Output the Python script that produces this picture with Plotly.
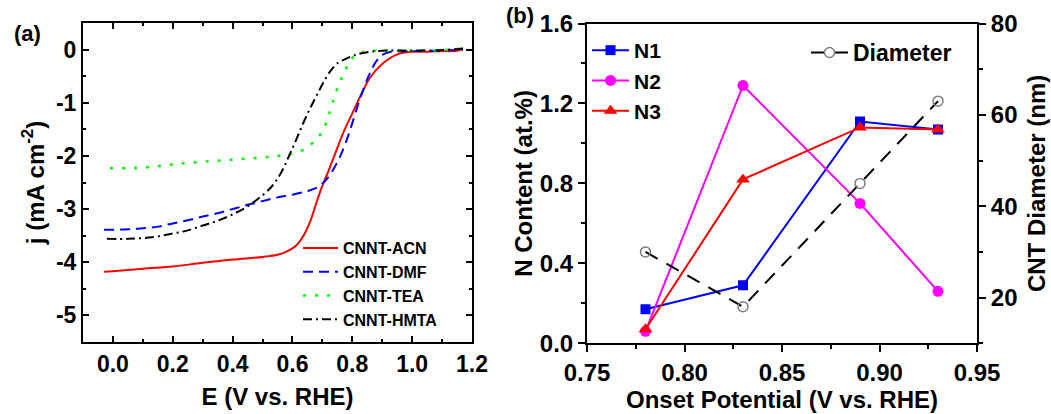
import plotly.graph_objects as go

# ---- Panel (a): LSV curves, current density vs potential ----
acn_E = [-0.03, 0.0, 0.1, 0.2, 0.3, 0.4, 0.5, 0.55, 0.58, 0.6, 0.62, 0.64, 0.66, 0.68, 0.7,
         0.72, 0.75, 0.77, 0.8, 0.83, 0.86, 0.9, 0.95, 1.0, 1.05, 1.1, 1.15, 1.17]
acn_j = [-4.18, -4.17, -4.12, -4.08, -4.01, -3.95, -3.90, -3.86, -3.80, -3.74, -3.64, -3.47,
         -3.22, -2.88, -2.56, -2.29, -1.85, -1.56, -1.20, -0.84, -0.52, -0.27, -0.09, -0.04,
         -0.04, -0.03, -0.02, 0.02]

dmf_E = [-0.03, 0.05, 0.1, 0.15, 0.2, 0.25, 0.3, 0.35, 0.4, 0.45, 0.5, 0.55, 0.6, 0.65, 0.68,
         0.7, 0.72, 0.74, 0.76, 0.78, 0.8, 0.82, 0.84, 0.86, 0.88, 0.9, 0.93, 0.96, 1.0, 1.1, 1.17]
dmf_j = [-3.39, -3.38, -3.36, -3.33, -3.27, -3.21, -3.14, -3.08, -3.00, -2.92, -2.85, -2.78,
         -2.73, -2.66, -2.60, -2.52, -2.40, -2.22, -2.00, -1.72, -1.38, -1.02, -0.70, -0.43,
         -0.22, -0.10, -0.04, -0.03, -0.03, -0.02, 0.0]

tea_E = [-0.01, 0.1, 0.2, 0.3, 0.4, 0.5, 0.55, 0.6, 0.63, 0.65, 0.67, 0.69, 0.71, 0.73, 0.75,
         0.77, 0.79, 0.81, 0.84, 0.9, 1.0, 1.1, 1.17]
tea_j = [-2.23, -2.22, -2.16, -2.11, -2.07, -2.03, -2.00, -1.96, -1.90, -1.84, -1.74, -1.62,
         -1.42, -1.08, -0.73, -0.46, -0.24, -0.11, -0.04, -0.02, -0.02, -0.01, 0.02]

hmta_E = [-0.02, 0.05, 0.13, 0.2, 0.25, 0.3, 0.35, 0.4, 0.45, 0.5, 0.53, 0.55, 0.57, 0.59,
          0.61, 0.63, 0.65, 0.67, 0.69, 0.71, 0.73, 0.75, 0.78, 0.81, 0.85, 0.9, 1.0, 1.1, 1.17]
hmta_j = [-3.56, -3.56, -3.53, -3.46, -3.40, -3.31, -3.22, -3.10, -2.95, -2.74, -2.58, -2.43,
          -2.23, -1.98, -1.73, -1.46, -1.21, -0.98, -0.76, -0.55, -0.38, -0.26, -0.17, -0.10,
          -0.05, -0.02, -0.02, -0.01, 0.02]

# ---- Panel (b): N content and CNT diameter vs onset potential ----
onset = [0.78, 0.83, 0.89, 0.93]
n1 = [0.17, 0.29, 1.11, 1.07]
n2 = [0.06, 1.29, 0.70, 0.26]
n3 = [0.07, 0.82, 1.08, 1.07]
diameter = [30, 18, 45, 63]

# tick values and labels
a_xticks = [0.0, 0.2, 0.4, 0.6, 0.8, 1.0, 1.2]
a_xlabels = ["0.0", "0.2", "0.4", "0.6", "0.8", "1.0", "1.2"]
a_yticks = [0, -1, -2, -3, -4, -5]
a_ylabels = ["0", "-1", "-2", "-3", "-4", "-5"]
b_xticks = [0.75, 0.80, 0.85, 0.90, 0.95]
b_xlabels = ["0.75", "0.80", "0.85", "0.90", "0.95"]
b_yticks = [0.0, 0.4, 0.8, 1.2, 1.6]
b_ylabels = ["0.0", "0.4", "0.8", "1.2", "1.6"]
b_dticks = [20, 40, 60, 80]
b_dlabels = ["20", "40", "60", "80"]

FONT = "Liberation Sans, Arial, sans-serif"
W, H = 1051, 414


def px_x(p):
    return p / W


def px_y(p):
    return 1 - p / H


def bold(labels):
    return ["<b>" + s + "</b>" for s in labels]


fig = go.Figure()

lw = 2
fig.add_trace(go.Scatter(x=acn_E, y=acn_j, mode="lines", name="CNNT-ACN",
                         line=dict(color="#ff0000", width=lw, shape="spline"),
                         xaxis="x", yaxis="y", legend="legend"))
fig.add_trace(go.Scatter(x=dmf_E, y=dmf_j, mode="lines", name="CNNT-DMF",
                         line=dict(color="#0000ff", width=lw, dash="10px,6px", shape="spline"),
                         xaxis="x", yaxis="y", legend="legend"))
fig.add_trace(go.Scatter(x=tea_E, y=tea_j, mode="lines", name="CNNT-TEA",
                         line=dict(color="#00ff00", width=lw + 0.5, dash="3px,9px", shape="spline"),
                         xaxis="x", yaxis="y", legend="legend"))
fig.add_trace(go.Scatter(x=hmta_E, y=hmta_j, mode="lines", name="CNNT-HMTA",
                         line=dict(color="#000000", width=lw, dash="9px,4px,2px,4px", shape="spline"),
                         xaxis="x", yaxis="y", legend="legend"))

fig.add_trace(go.Scatter(x=onset, y=n1, mode="lines+markers", name="N1",
                         line=dict(color="#0000ff", width=2),
                         marker=dict(symbol="square", size=10, color="#0000ff"),
                         xaxis="x2", yaxis="y2", legend="legend2"))
fig.add_trace(go.Scatter(x=onset, y=n2, mode="lines+markers", name="N2",
                         line=dict(color="#ff00ff", width=2),
                         marker=dict(symbol="circle", size=11, color="#ff00ff"),
                         xaxis="x2", yaxis="y2", legend="legend2"))
fig.add_trace(go.Scatter(x=onset, y=n3, mode="lines+markers", name="N3",
                         line=dict(color="#ff0000", width=2),
                         marker=dict(symbol="triangle-up", size=12, color="#ff0000"),
                         xaxis="x2", yaxis="y2", legend="legend2"))
fig.add_trace(go.Scatter(x=onset, y=diameter, mode="lines+markers", name="Diameter",
                         line=dict(color="#000000", width=2, dash="14px,10px"),
                         marker=dict(symbol="circle-open", size=10, color="#808080",
                                     line=dict(width=1.5, color="#808080")),
                         xaxis="x2", yaxis="y3", legend="legend3"))

tick_font_a = dict(family=FONT, size=23, color="black", weight="bold")
tick_font_b = dict(family=FONT, size=24, color="black", weight="bold")
title_font = dict(family=FONT, size=24, color="black")

ax_common = dict(showline=True, linecolor="black", linewidth=2, showgrid=False,
                 zeroline=False, tickcolor="black", tickwidth=2, automargin=False)


def minor(dt, t0, side, ln):
    return dict(dtick=dt, tick0=t0, ticks=side, ticklen=ln, tickcolor="black", tickwidth=2)


fig.update_layout(
    width=W, height=H,
    margin=dict(l=0, r=0, t=0, b=0, autoexpand=False),
    paper_bgcolor="white", plot_bgcolor="white",
    font=dict(family=FONT, color="black"),
    xaxis=dict(domain=[px_x(83), px_x(472)], range=[-0.1, 1.2],
               tickmode="array", tickvals=a_xticks, ticktext=bold(a_xlabels),
               ticks="inside", ticklen=6, mirror="allticks",
               minor=minor(0.1, 0, "inside", 3),
               tickfont=tick_font_a, anchor="y",
               title=dict(text="<b>E (V vs. RHE)</b>", font=title_font, standoff=13),
               **ax_common),
    yaxis=dict(domain=[px_y(342), px_y(23)], range=[-5.5, 0.5],
               tickmode="array", tickvals=a_yticks, ticktext=bold(a_ylabels),
               ticks="inside", ticklen=6, mirror="allticks",
               minor=minor(0.5, 0, "inside", 3),
               tickfont=tick_font_a, anchor="x",
               title=dict(text="<b>j (mA cm<sup>-2</sup>)</b>", font=title_font, standoff=5),
               **ax_common),
    xaxis2=dict(domain=[px_x(587), px_x(977)], range=[0.75, 0.95],
                tickmode="array", tickvals=b_xticks, ticktext=bold(b_xlabels),
                ticks="outside", ticklen=7, mirror=True,
                minor=minor(0.025, 0.75, "outside", 4),
                tickfont=tick_font_b, anchor="y2",
                title=dict(text="<b>Onset Potential (V vs. RHE)</b>", font=title_font, standoff=4),
                **ax_common),
    xaxis4=dict(overlaying="x2", side="top", range=[0.75, 0.95], dtick=0.05, tick0=0.75,
                ticks="inside", ticklen=7, showticklabels=False, anchor="y2",
                minor=minor(0.025, 0.75, "inside", 4),
                **ax_common),
    yaxis2=dict(domain=[px_y(343.3), px_y(23.5)], range=[0, 1.6],
                tickmode="array", tickvals=b_yticks, ticktext=bold(b_ylabels),
                ticks="outside", ticklen=7, mirror=True,
                minor=minor(0.2, 0, "outside", 4),
                tickfont=tick_font_b, anchor="x2",
                title=dict(text="<b>N Content (at.%)</b>", font=title_font, standoff=0),
                **ax_common),
    yaxis3=dict(overlaying="y2", side="right", range=[10, 80],
                tickmode="array", tickvals=b_dticks, ticktext=bold(b_dlabels),
                ticks="outside", ticklen=7, anchor="x2",
                minor=minor(10, 0, "outside", 4),
                tickfont=tick_font_b,
                title=dict(text="<b>CNT Diameter (nm)</b>", font=title_font, standoff=12),
                **ax_common),
    legend=dict(x=px_x(298), y=px_y(231), xanchor="left", yanchor="top",
                bgcolor="rgba(0,0,0,0)", itemwidth=35, tracegroupgap=0,
                font=dict(family=FONT, size=16, color="black")),
    legend2=dict(x=px_x(587), y=px_y(30), xanchor="left", yanchor="top",
                 bgcolor="rgba(0,0,0,0)", itemwidth=37, tracegroupgap=0,
                 font=dict(family=FONT, size=21, color="black")),
    legend3=dict(x=px_x(806), y=px_y(31), xanchor="left", yanchor="top",
                 bgcolor="rgba(0,0,0,0)", itemwidth=37,
                 font=dict(family=FONT, size=23, color="black")),
    annotations=[
        dict(text="<b>(a)</b>", x=px_x(12), y=px_y(33), xref="paper", yref="paper",
             xanchor="left", yanchor="middle", showarrow=False,
             font=dict(family=FONT, size=22, color="black")),
        dict(text="<b>(b)</b>", x=px_x(504), y=px_y(16), xref="paper", yref="paper",
             xanchor="left", yanchor="middle", showarrow=False,
             font=dict(family=FONT, size=22, color="black")),
    ],
)

# legend entry labels in bold
for tr in fig.data:
    tr.name = "<b>" + tr.name + "</b>"

fig.write_html("out.html")
